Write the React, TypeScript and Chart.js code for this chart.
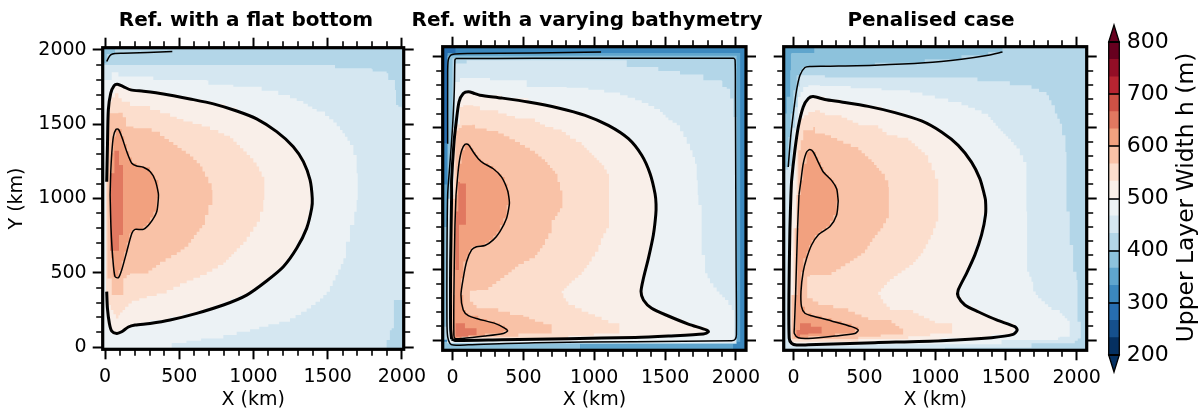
import React, { useEffect, useRef } from "react";
import { Chart, registerables } from "chart.js";

Chart.register(...registerables);

type P = number[][];

const FONT = "'DejaVu Sans'";
const panelTitles = ["Ref. with a flat bottom", "Ref. with a varying bathymetry", "Penalised case"];
const axisTicks = [0, 500, 1000, 1500, 2000];
const minorAxisTicks = [100, 200, 300, 400, 600, 700, 800, 900, 1100, 1200, 1300, 1400, 1600, 1700, 1800, 1900];

const levelColors = ["#053061", "#15508d", "#276eb0", "#3b88be", "#5fa5cd", "#8dc2dc", "#b3d6e8", "#d5e7f1", "#ecf2f5", "#f9efe9", "#fcdecd", "#f9c2a7", "#f2a17f", "#e17860", "#ce5145", "#b82431", "#930e26", "#67001f"];
const levelBounds = [200, 233.33, 266.67, 300, 333.33, 366.67, 400, 433.33, 466.67, 500, 533.33, 566.67, 600, 633.33, 666.67, 700, 733.33, 766.67, 800];
const colorbarTicks = [200, 300, 400, 500, 600, 700, 800];

// ---------- Flat bottom
const flat400: P = [[11,1922],[22,1944],[38,1967],[67,1976],[123,1978],[453,1989]];
const flat500: P = [[11,1113],[16,1349],[22,1596],[38,1708],[61,1760],[83,1769],[123,1753],[173,1731],[258,1722],[393,1704],[572,1670],[730,1637],[887,1589],[1021,1536],[1156,1450],[1268,1349],[1336,1248],[1381,1125],[1396,1000],[1392,934],[1358,799],[1291,665],[1201,541],[1088,445],[954,350],[797,283],[617,227],[438,182],[303,159],[202,148],[157,135],[112,103],[79,92],[45,108],[29,159],[16,260],[11,373]];
const flat600: P = [[34,1024],[38,1170],[45,1304],[56,1417],[74,1466],[90,1466],[112,1417],[146,1316],[180,1237],[213,1219],[258,1210],[303,1181],[337,1125],[359,1035],[359,1001],[348,911],[303,833],[258,792],[202,792],[180,765],[146,642],[112,519],[90,467],[67,474],[52,597],[40,799],[34,1024]];
const flatL5: P = [[67,2100],[67,1973],[11,1973],[11,1910],[-100,1910],[-100,2100]];
const flatL7: P = [[-100,1899],[1549,1899],[1549,1877],[1796,1870],[1803,1854],[1897,1843],[1908,1798],[1931,1798],[1953,1731],[1960,1630],[1976,1618],[1998,1607],[2100,1607],[2100,317],[1953,317],[1946,126],[1931,114],[1919,47],[1897,-9],[1897,-100],[-100,-100]];
const flatL8: P = [[-100,1798],[45,1798],[45,1850],[90,1850],[90,1821],[325,1798],[685,1794],[696,1765],[864,1753],[1055,1726],[1167,1697],[1246,1675],[1336,1637],[1426,1585],[1482,1556],[1538,1511],[1583,1461],[1616,1416],[1650,1360],[1673,1293],[1695,1170],[1702,990],[1695,911],[1679,822],[1650,709],[1623,597],[1571,485],[1515,373],[1448,305],[1358,238],[1246,171],[1100,137],[977,103],[797,58],[647,43],[449,13],[449,-100],[-100,-100]];
const flatL10: P = [[22,1652],[67,1708],[90,1675],[112,1652],[168,1623],[303,1596],[438,1551],[528,1518],[651,1484],[763,1439],[842,1405],[909,1338],[977,1271],[1021,1215],[1055,1147],[1073,990],[1066,911],[1044,844],[999,777],[954,709],[887,642],[797,552],[685,485],[550,429],[415,361],[281,328],[180,294],[135,249],[101,215],[90,193],[56,249],[22,317],[7,462],[7,1200]];
const flatL11: P = [[22,1574],[90,1578],[119,1547],[141,1484],[191,1473],[314,1450],[370,1421],[460,1360],[572,1282],[640,1215],[673,1147],[718,1057],[723,990],[723,956],[696,889],[673,822],[617,754],[561,676],[483,620],[370,552],[292,496],[168,485],[123,440],[123,350],[45,350],[45,462],[16,485],[16,1200]];
const flatL13: P = [[34,1170],[63,1322],[94,1322],[94,1226],[121,1226],[121,754],[94,754],[94,649],[63,649],[34,799]];

// ---------- Varying bathymetry
const bathyA400: P = [[1048,2035],[581,2028],[111,2024],[16,2021],[-14,2012],[-31,1977],[-35,1882],[-35,1388]];
const bathyB400: P = [[21,1988],[581,1990],[1288,1990],[1982,1990],[1994,1976],[1996,1717],[2001,556],[2003,38],[1994,7],[1970,-2],[1288,-9],[581,-16],[111,-31],[5,-33],[-19,-21],[-35,26],[-40,132],[-40,556],[-35,1026],[-19,1247],[-2,1482],[12,1765],[16,1977],[21,1988]];
const bathy500: P = [[-7,9],[-14,85],[-14,556],[-7,1026],[-7,1130],[9,1388],[24,1529],[45,1682],[75,1741],[111,1755],[158,1741],[193,1730],[346,1710],[534,1682],[746,1640],[935,1588],[1099,1517],[1241,1423],[1335,1306],[1394,1176],[1429,1035],[1436,960],[1434,885],[1417,744],[1382,579],[1347,438],[1330,344],[1347,285],[1405,226],[1523,172],[1664,115],[1794,73],[1806,61],[1770,45],[1523,31],[1288,21],[817,12],[346,5],[16,0],[-7,9]];
const bathy600: P = [[24,1026],[33,1129],[45,1247],[64,1341],[87,1383],[111,1381],[146,1329],[181,1282],[217,1251],[287,1211],[346,1152],[388,1058],[400,988],[400,956],[381,862],[334,767],[287,709],[228,669],[169,661],[134,638],[99,556],[75,438],[59,320],[75,214],[111,174],[181,151],[299,120],[370,85],[388,66],[358,49],[228,31],[64,14],[16,14],[9,38],[9,320],[16,791],[24,1026]];
const bathyDark: P = [[-100,1390],[-35,1390],[-35,2020],[20,2020],[20,2100],[-100,2100]];
const bathyBandL4: P = [[-35,-10],[2030,-10],[2030,2028],[-35,2028]];
const bathyLeftL4: P = [[-100,800],[-35,800],[-35,1100],[-100,1100]];
const bathyLeftL5: P = [[-100,100],[-35,100],[-35,800],[-100,800]];
const bathyLeftL6: P = [[-100,5],[-35,5],[-35,100],[-100,100]];
const bathyBottomL5: P = [[-100,-100],[900,-100],[900,-10],[-100,-10]];
const bathyBottomL4: P = [[900,-100],[1980,-100],[1980,-10],[900,-10]];
const bathyInnerL5: P = [[-35,-25],[2005,-25],[2005,2008],[-35,2008]];
const bathyInnerL6: P = [[-35,-20],[1996,-20],[1996,1990],[16,1990]];
const bathyL7: P = [[16,1953],[99,1953],[99,1977],[1229,1977],[1229,1929],[1452,1929],[1452,1901],[1605,1901],[1605,1875],[1770,1870],[1770,1835],[1900,1830],[1904,1788],[1935,1776],[1959,1706],[1982,1576],[1996,1576],[2002,-20],[-38,-28],[-38,1000],[-10,1400]];
const bathyL8: P = [[16,1823],[52,1852],[264,1835],[523,1823],[523,1788],[805,1783],[958,1769],[1182,1729],[1288,1694],[1382,1654],[1464,1612],[1523,1553],[1582,1517],[1629,1435],[1676,1341],[1711,1247],[1723,1129],[1730,1026],[1735,956],[1758,791],[1758,603],[1782,473],[1817,403],[1864,344],[1923,285],[1970,214],[1987,191],[1987,-15],[-20,-15],[-20,1100],[0,1500]];
const bathyL10: P = [[52,1647],[75,1659],[146,1652],[193,1623],[322,1600],[440,1565],[581,1541],[652,1506],[770,1470],[829,1423],[911,1376],[982,1306],[1052,1235],[1088,1176],[1104,1082],[1104,1026],[1104,791],[1064,720],[1029,626],[982,556],[911,461],[840,403],[770,332],[782,297],[817,250],[911,202],[1005,167],[1099,120],[1177,97],[1177,49],[817,15],[16,9],[-7,85],[-10,556],[-5,1026],[10,1400]];
const bathyL11: P = [[21,1481],[64,1517],[139,1522],[158,1494],[322,1459],[440,1400],[581,1317],[652,1258],[723,1176],[758,1058],[775,988],[775,932],[723,850],[699,756],[652,673],[581,579],[464,520],[393,461],[252,355],[169,351],[122,367],[122,273],[169,226],[322,202],[405,179],[499,167],[581,132],[699,97],[699,49],[464,26],[16,14],[-10,320],[-5,1000]];
const bathyL13a: P = [[40,1118],[52,1106],[94,1124],[94,815],[68,815],[45,497],[21,497],[21,909]];
const bathyL13b: P = [[21,120],[87,120],[87,85],[169,73],[169,38],[111,26],[16,14]];

// ---------- Penalised
const pen400: P = [[1476,2035],[1375,2012],[1186,1984],[927,1958],[574,1941],[221,1934],[115,1932],[80,1925],[45,1871],[21,1765],[-2,1600],[-21,1435],[-38,1223]];
const pen500: P = [[-19,1026],[-14,1129],[9,1341],[33,1506],[68,1647],[104,1706],[139,1720],[221,1699],[339,1682],[527,1651],[716,1607],[904,1548],[1045,1470],[1163,1376],[1257,1258],[1316,1141],[1346,1035],[1356,988],[1356,885],[1328,744],[1281,603],[1222,473],[1163,355],[1163,308],[1210,250],[1304,202],[1434,144],[1563,97],[1580,73],[1551,42],[1398,19],[1045,-2],[574,-16],[104,-31],[21,-33],[-14,-21],[-31,14],[-33,320],[-26,791],[-19,1026]];
const pen600: P = [[38,1026],[52,1129],[68,1247],[92,1329],[115,1346],[139,1329],[174,1258],[210,1188],[268,1129],[304,1070],[315,988],[315,979],[304,885],[257,803],[174,744],[127,673],[92,579],[68,485],[52,344],[56,238],[80,191],[127,174],[268,137],[410,97],[457,73],[433,49],[292,31],[104,14],[33,19],[5,49],[5,85],[14,320],[28,791],[38,1026]];
const penL5: P = [[1476,2100],[1476,2035],[1375,2012],[1186,1984],[927,1958],[574,1941],[221,1934],[115,1932],[80,1925],[45,1871],[21,1765],[-2,1600],[-21,1435],[-38,1223],[-100,1223],[-100,2100]];
const penL4: P = [[146,2100],[146,2028],[-14,2024],[-19,1906],[-24,1718],[-49,1600],[-100,1600],[-100,2100]];
const penL7: P = [[-100,1150],[-38,1230],[-10,1500],[30,1790],[45,1870],[104,1870],[221,1854],[1292,1854],[1299,1828],[1516,1828],[1528,1800],[1681,1776],[1787,1729],[1822,1659],[1846,1600],[1881,1529],[1897,1447],[1921,1329],[1928,1247],[1928,909],[1951,897],[1951,673],[1975,650],[1975,485],[1999,426],[2006,132],[2022,132],[2029,14],[1987,-21],[1681,-26],[1681,-52],[1069,-61],[468,-38],[468,-100],[-100,-100]];
const penL8: P = [[68,1788],[104,1800],[186,1795],[621,1764],[822,1748],[998,1706],[1186,1659],[1281,1623],[1375,1576],[1445,1494],[1516,1423],[1575,1353],[1622,1259],[1645,1129],[1645,909],[1650,485],[1681,414],[1693,344],[1728,297],[1822,214],[1881,191],[1951,120],[1951,26],[1881,21],[1869,2],[1469,-2],[1469,-28],[468,-38],[-28,-33],[-28,320],[-24,791],[-20,1026],[-8,1176],[5,1482],[30,1717]];
const penL10: P = [[21,1481],[45,1565],[104,1612],[151,1623],[221,1588],[339,1571],[457,1517],[598,1494],[657,1447],[810,1411],[927,1306],[975,1200],[1022,1082],[1022,1026],[1022,838],[986,744],[916,614],[845,532],[763,473],[680,414],[598,320],[633,261],[680,214],[845,191],[998,120],[1120,97],[1120,49],[810,9],[457,-9],[9,-9],[-14,320],[-2,791]];
const penL11: P = [[33,1341],[68,1482],[139,1506],[151,1459],[221,1447],[351,1388],[457,1341],[551,1258],[621,1176],[669,1082],[673,1026],[673,862],[633,791],[574,720],[504,614],[398,544],[268,461],[115,450],[96,391],[96,297],[174,250],[386,202],[527,144],[692,120],[774,66],[774,42],[457,9],[104,9],[-14,14],[-14,320],[9,791],[21,1026]];
const penL13: P = [[45,120],[122,120],[122,97],[174,97],[198,73],[198,49],[104,42],[45,26],[21,38],[21,73],[45,85]];

type Panel = {
  title: string; left: number; width: number; areaL: number; areaR: number; areaT: number; areaB: number;
  xMin: number; xMax: number; yMin: number; yMax: number; showY: boolean; base: number;
  regions: [number, P][]; thick: P[]; thin: P[];
};

const panels: Panel[] = [
  { title: panelTitles[0], left: 0, width: 492, areaL: 102.7, areaR: 403.7, areaT: 47.7, areaB: 349.3,
    xMin: -16, xMax: 2012, yMin: -15, yMax: 2015, showY: true, base: 6,
    regions: [[5, flatL5], [7, flatL7], [8, flatL8], [9, flat500], [10, flatL10], [11, flatL11], [12, flat600], [13, flatL13]],
    thick: [flat500], thin: [flat400, flat600] },
  { title: panelTitles[1], left: 405, width: 364, areaL: 442.7, areaR: 746, areaT: 46.7, areaB: 350.3,
    xMin: -70, xMax: 2071, yMin: -70, yMax: 2072, showY: false, base: 3,
    regions: [[2, bathyDark], [4, bathyBandL4], [4, bathyLeftL4], [5, bathyLeftL5], [6, bathyLeftL6], [5, bathyBottomL5], [4, bathyBottomL4], [5, bathyInnerL5], [6, bathyInnerL6], [7, bathyL7], [8, bathyL8], [9, bathy500], [10, bathyL10], [11, bathyL11], [12, bathy600], [13, bathyL13a], [13, bathyL13b]],
    thick: [bathy500], thin: [bathyA400, bathyB400, bathy600] },
  { title: panelTitles[2], left: 755, width: 352, areaL: 783.7, areaR: 1086.7, areaT: 46.7, areaB: 350.3,
    xMin: -70, xMax: 2071, yMin: -70, yMax: 2072, showY: false, base: 6,
    regions: [[5, penL5], [4, penL4], [7, penL7], [8, penL8], [9, pen500], [10, penL10], [11, penL11], [12, pen600], [13, penL13]],
    thick: [pen500], thin: [pen400, pen600] },
];

const CELL = 20;

const fieldPlugin = {
  id: "field",
  beforeDatasetsDraw(chart: any) {
    const { ctx, chartArea: a, scales } = chart;
    const cfg = chart.options.plugins.field;
    ctx.save();
    ctx.beginPath();
    ctx.rect(a.left, a.top, a.right - a.left, a.bottom - a.top);
    ctx.clip();
    ctx.fillStyle = levelColors[cfg.base];
    ctx.fillRect(a.left, a.top, a.right - a.left, a.bottom - a.top);
    const px = (v: number) => scales.x.getPixelForValue(v);
    const py = (v: number) => scales.y.getPixelForValue(v);
    for (const [level, pts] of cfg.regions as [number, P][]) {
      ctx.fillStyle = levelColors[level];
      ctx.beginPath();
      ctx.moveTo(px(pts[0][0]), py(pts[0][1]));
      for (let i = 1; i <= pts.length; i++) {
        const A = pts[i - 1];
        const B = pts[i % pts.length];
        const dx = B[0] - A[0];
        const dy = B[1] - A[1];
        const n = Math.max(1, Math.round(Math.min(Math.abs(dx), Math.abs(dy)) / CELL));
        for (let j = 1; j <= n; j++) {
          ctx.lineTo(px(A[0] + (dx * j) / n), py(A[1] + (dy * (j - 1)) / n));
          ctx.lineTo(px(A[0] + (dx * j) / n), py(A[1] + (dy * j) / n));
        }
      }
      ctx.closePath();
      ctx.fill();
    }
    ctx.restore();
  },
  afterDraw(chart: any) {
    const { ctx, chartArea: a, scales } = chart;
    ctx.save();
    ctx.strokeStyle = "#000";
    ctx.lineWidth = 1.6;
    ctx.beginPath();
    for (const v of minorAxisTicks) {
      const x = Math.round(scales.x.getPixelForValue(v));
      const y = Math.round(scales.y.getPixelForValue(v));
      ctx.moveTo(x, a.bottom); ctx.lineTo(x, a.bottom + 6.5);
      ctx.moveTo(x, a.top); ctx.lineTo(x, a.top - 6.5);
      ctx.moveTo(a.left, y); ctx.lineTo(a.left - 6.5, y);
      ctx.moveTo(a.right, y); ctx.lineTo(a.right + 6.5, y);
    }
    ctx.stroke();
    ctx.lineWidth = 3.2;
    ctx.strokeRect(a.left, a.top, a.right - a.left, a.bottom - a.top);
    ctx.restore();
  },
};

const colorbarPlugin = {
  id: "colorbarDecor",
  afterDraw(chart: any) {
    const { ctx, chartArea: a, scales } = chart;
    const y = scales.y;
    const mid = (a.left + a.right) / 2;
    ctx.save();
    ctx.strokeStyle = "#000";
    ctx.lineWidth = 1.3;
    const tri = (base: number, tip: number, col: string) => {
      ctx.fillStyle = col;
      ctx.beginPath();
      ctx.moveTo(a.left, base);
      ctx.lineTo(mid, tip);
      ctx.lineTo(a.right, base);
      ctx.closePath();
      ctx.fill();
      ctx.stroke();
    };
    tri(a.top, a.top - 17, levelColors[17]);
    tri(a.bottom, a.bottom + 17, levelColors[0]);
    ctx.strokeRect(a.left, a.top, a.right - a.left, a.bottom - a.top);
    for (const v of colorbarTicks) {
      ctx.lineWidth = 1.6;
      const py = Math.round(y.getPixelForValue(v));
      ctx.beginPath();
      ctx.moveTo(a.left, py);
      ctx.lineTo(a.right, py);
      ctx.stroke();
    }
    ctx.fillStyle = "#000";
    ctx.font = `23.4px ${FONT}`;
    ctx.textAlign = "center";
    ctx.textBaseline = "middle";
    ctx.translate(92, 197.5);
    ctx.rotate(-Math.PI / 2);
    ctx.fillText("Upper Layer Width h (m)", 0, 0);
    ctx.restore();
  },
};

function axis(position: string, min: number, max: number, size: number, extra: any = {}) {
  return {
    type: "linear",
    position,
    min,
    max,
    afterBuildTicks: (s: any) => { s.ticks = axisTicks.map((value) => ({ value })); },
    afterFit: (s: any) => {
      if (position === "left" || position === "right") s.width = size; else s.height = size;
      s.paddingLeft = s.paddingRight = s.paddingTop = s.paddingBottom = 0;
    },
    grid: { drawOnChartArea: false, drawTicks: true, tickLength: 10, tickWidth: 2, tickColor: "#000" },
    border: { display: false },
    ticks: { display: false, color: "#000", padding: 6, maxRotation: 0, autoSkip: false, font: { family: FONT, size: 19 } },
    ...extra,
  };
}

const H = 410;

export default function App() {
  const refs = useRef<(HTMLCanvasElement | null)[]>([]);
  const barRef = useRef<HTMLCanvasElement | null>(null);

  useEffect(() => {
    const charts: Chart[] = [];
    panels.forEach((p, i) => {
      const canvas = refs.current[i]!;
      const titleH = 31;
      const datasets: any[] = [
        ...p.thin.map((data, k) => ({ label: `thin${k}`, data: data.map(([x, y]) => ({ x, y })), showLine: true, borderColor: "#000", borderWidth: 1.5, pointRadius: 0, tension: 0.25, fill: false, xAxisID: "x", yAxisID: "y" })),
        ...p.thick.map((data, k) => ({ label: `thick${k}`, data: data.map(([x, y]) => ({ x, y })), showLine: true, borderColor: "#000", borderWidth: 3, pointRadius: 0, tension: 0.25, fill: false, xAxisID: "x", yAxisID: "y" })),
      ];
      const labelTicks = { display: true, color: "#000", padding: 6, maxRotation: 0, autoSkip: false, font: { family: FONT, size: 19 }, callback: (v: any) => String(v) };
      charts.push(new Chart(canvas, {
        type: "scatter",
        data: { datasets },
        plugins: [fieldPlugin],
        options: {
          animation: false,
          responsive: false,
          layout: { padding: 0 },
          plugins: {
            legend: { display: false },
            tooltip: { enabled: false },
            title: { display: true, text: p.title, color: "#000", padding: { top: 11, bottom: 0 }, font: { family: FONT, size: 20, weight: "bold", lineHeight: 1 } },
            field: { base: p.base, regions: p.regions },
          },
          scales: {
            x: axis("bottom", p.xMin, p.xMax, H - p.areaB, {
              ticks: labelTicks,
              title: { display: true, text: "X (km)", color: "#000", padding: 0, font: { family: FONT, size: 19, lineHeight: 1 } },
            }),
            xTop: axis("top", p.xMin, p.xMax, p.areaT - titleH),
            y: axis("left", p.yMin, p.yMax, p.areaL - p.left, p.showY ? {
              ticks: labelTicks,
              title: { display: true, text: "Y (km)", color: "#000", padding: { top: 6, bottom: 0 }, font: { family: FONT, size: 19, lineHeight: 1.2 } },
            } : {}),
            yRight: axis("right", p.yMin, p.yMax, p.left + p.width - p.areaR),
          },
        } as any,
      }));
    });

    charts.push(new Chart(barRef.current!, {
      type: "bar",
      data: {
        labels: ["h"],
        datasets: levelColors.map((color, i) => ({
          label: `${levelBounds[i]}`,
          data: [[levelBounds[i], levelBounds[i + 1]]],
          backgroundColor: color,
          borderWidth: 0,
          grouped: false,
          barPercentage: 1,
          categoryPercentage: 1,
        })),
      } as any,
      plugins: [colorbarPlugin],
      options: {
        animation: false,
        responsive: false,
        layout: { padding: { left: 13.7, top: 42, bottom: 55, right: 0 } },
        plugins: { legend: { display: false }, tooltip: { enabled: false } },
        scales: {
          x: { display: false, offset: true },
          y: {
            type: "linear",
            position: "right",
            min: 200,
            max: 800,
            afterBuildTicks: (s: any) => { s.ticks = colorbarTicks.map((value) => ({ value })); },
            afterFit: (s: any) => { s.width = 80.7; s.paddingTop = s.paddingBottom = 0; },
            grid: { drawOnChartArea: false, drawTicks: false },
            border: { display: false },
            ticks: { color: "#000", padding: 7.5, autoSkip: false, font: { family: FONT, size: 22 } },
          },
        },
      } as any,
    }));

    return () => charts.forEach((c) => c.destroy());
  }, []);

  return (
    <div style={{ position: "absolute", left: 0, top: 0, width: 1200, height: H, overflow: "hidden", background: "#fff" }}>
      {panels.map((p, i) => (
        <canvas
          key={p.title}
          ref={(el) => { refs.current[i] = el; }}
          width={p.width}
          height={H}
          style={{ position: "absolute", left: p.left, top: 0, width: p.width, height: H }}
        />
      ))}
      <canvas ref={barRef} width={105} height={H} style={{ position: "absolute", left: 1095, top: 0, width: 105, height: H }} />
    </div>
  );
}
